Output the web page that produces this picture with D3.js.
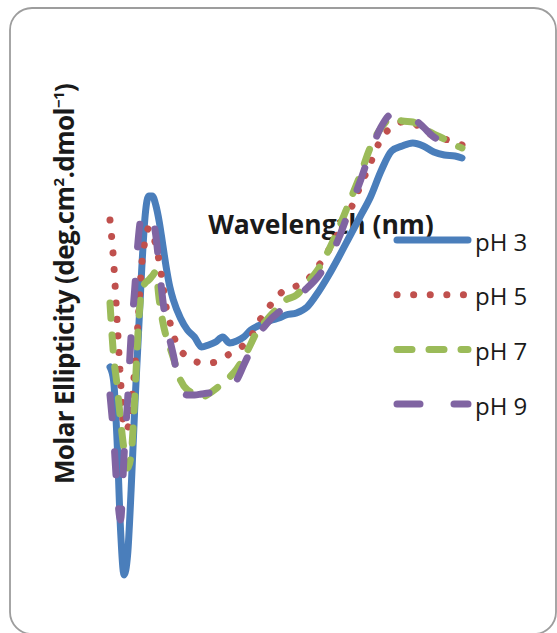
<!DOCTYPE html>
<html>
<head>
<meta charset="utf-8">
<script src="https://cdn.jsdelivr.net/npm/d3@7"></script>
<style>
    body { margin: 0; background: #ffffff; }
    svg { display: block; }
</style>
</head>
<body>
<svg id="svg"></svg>
<script>
// Wavelength grid (nm), shared by every series
var wavelength = [
    190, 191, 192, 193, 194, 195, 196, 197, 198, 199, 200, 201, 202, 203, 204, 205, 206, 207, 208,
    210, 212, 214, 216, 218, 220, 222, 224, 226, 228, 230, 232, 234, 236, 238, 240,
    243, 246, 249, 252, 255, 258, 261, 264, 267, 270, 273, 276, 279, 282, 285, 288, 290
];

// Molar ellipticity (x 10^3 deg.cm2.dmol-1)
var pH3 = [
    1.3, 0.0, -6.0, -15.0, -19.5, -17.5, -11.0, -3.0, 4.0, 11.0, 16.5, 18.4, 18.4, 17.5, 15.8, 13.5, 11.2, 9.3, 8.0,
    6.2, 5.0, 4.3, 3.3, 3.5, 3.8, 4.3, 3.7, 3.9, 4.3, 5.0, 5.4, 5.7, 6.0, 6.2, 6.5,
    6.7, 7.3, 8.7, 10.4, 12.3, 14.3, 16.3, 18.3, 20.9, 22.9, 23.4, 23.7, 23.4, 22.8, 22.5, 22.4, 22.2
];
var pH5 = [
    16.0, 12.0, 6.0, 0.0, -5.0, -4.8, -2.5, 1.0, 6.0, 11.5, 14.0, 15.2, 14.7, 13.5, 11.8, 9.5, 7.2, 5.8, 4.5,
    3.0, 2.3, 1.9, 1.7, 1.7, 1.8, 2.2, 2.6, 3.0, 3.5, 4.3, 5.7, 6.7, 7.7, 8.5, 9.1,
    9.4, 10.0, 11.3, 12.9, 14.8, 16.8, 19.3, 21.7, 24.1, 25.3, 25.8, 25.7, 25.0, 24.4, 24.1, 23.8, 23.5
];
var pH7 = [
    7.7, 2.5, -0.5, -4.0, -7.0, -8.8, -7.5, -2.0, 5.0, 9.0, 9.7, 10.0, 10.4, 10.8, 8.0, 5.8, 4.3, 3.3, 2.2,
    0.0, -1.0, -1.3, -1.7, -1.4, -0.9, -0.3, 0.3, 1.1, 2.2, 3.6, 5.0, 5.8, 6.6, 7.3, 8.0,
    8.5, 9.7, 11.0, 12.9, 15.2, 17.8, 20.4, 23.3, 25.2, 26.2, 25.9, 25.8, 25.2, 24.6, 24.1, 23.5, 23.2
];
var pH9 = [
    -1.5, -5.5, -11.0, -14.0, -7.5, -2.0, 4.5, 9.0, 14.0, 16.5, 16.7, 16.6, 16.2, 14.5, 11.2, 8.0, 5.5, 4.0, 2.5,
    -1.0, -1.5, -1.5, -1.4, -1.3, -1.3, -1.2, -0.8, 0.0, 1.5, 3.0, 4.5, 5.4, 6.2, 6.8, 7.4,
    8.3, 9.2, 10.3, 11.9, 14.2, 17.0, 19.8, 22.8, 25.3, 26.6, 26.7, 26.2, 25.3, 24.3, 23.9, 23.5, 23.0
];

var seriesNames = ["pH 3", "pH 5", "pH 7", "pH 9"];
var seriesValues = [pH3, pH5, pH7, pH9];

// Line look for each series: colour and dash
var styles = [
    { color: "#4a7ebb", dash: null },
    { color: "#c0504d", dash: "0.1 16.5" },
    { color: "#9bbb59", dash: "15 17" },
    { color: "#8064a2", dash: "23 34" }
];

var width = 557, height = 633;

var svg = d3.select("#svg")
    .attr("width", width)
    .attr("height", height)
    .style("font-family", "'Open Sans', sans-serif");

// Chart area frame
svg.append("rect")
    .attr("x", 10).attr("y", 8)
    .attr("width", 546).attr("height", 626)
    .attr("rx", 22).attr("ry", 22)
    .attr("fill", "#ffffff")
    .attr("stroke", "#9d9d9d")
    .attr("stroke-width", 1.8);

var x = d3.scaleLinear().domain([190, 290]).range([110, 462]);
var y = d3.scaleLinear().domain([-21, 30]).range([590, 80]);

// Axis titles (the picture has no tick labels)
svg.append("text")
    .attr("x", 321).attr("y", 234)
    .attr("text-anchor", "middle")
    .attr("font-size", 26.5)
    .attr("font-weight", "bold")
    .attr("fill", "#1a1a1a")
    .text("Wavelength (nm)");

var yTitle = svg.append("text")
    .attr("transform", "translate(74,284) rotate(-90)")
    .attr("text-anchor", "middle")
    .attr("font-size", 26)
    .attr("font-weight", "bold")
    .attr("letter-spacing", -0.6)
    .attr("fill", "#1a1a1a");
yTitle.append("tspan").text("Molar Ellipticity (deg.cm");
yTitle.append("tspan").attr("font-size", 15).attr("dy", -10).text("2");
yTitle.append("tspan").attr("dy", 10).text(".dmol");
yTitle.append("tspan").attr("font-size", 15).attr("dy", -10).text("\u22121");
yTitle.append("tspan").attr("dy", 10).text(")");

var line = d3.line()
    .x(function(d, i) { return x(wavelength[i]); })
    .y(function(d) { return y(d); })
    .curve(d3.curveMonotoneX);

svg.append("g").selectAll("path")
    .data(seriesValues)
    .join("path")
        .attr("d", line)
        .attr("fill", "none")
        .attr("stroke", function(d, i) { return styles[i].color; })
        .attr("stroke-width", 7)
        .attr("stroke-linecap", "round")
        .attr("stroke-linejoin", "round")
        .attr("stroke-dasharray", function(d, i) { return styles[i].dash; });

// Legend
var legend = svg.append("g").selectAll("g")
    .data(seriesNames)
    .join("g")
        .attr("transform", function(d, i) { return "translate(397," + (240 + i * 54.7) + ")"; });

legend.append("line")
    .attr("x1", 0).attr("x2", 71)
    .attr("stroke", function(d, i) { return styles[i].color; })
    .attr("stroke-width", 7)
    .attr("stroke-linecap", "round")
    .attr("stroke-dasharray", function(d, i) { return styles[i].dash; });

legend.append("text")
    .attr("x", 78).attr("y", 10.5)
    .attr("font-size", 24)
    .attr("fill", "#1a1a1a")
    .text(function(d) { return d; });
</script>
</body>
</html>
